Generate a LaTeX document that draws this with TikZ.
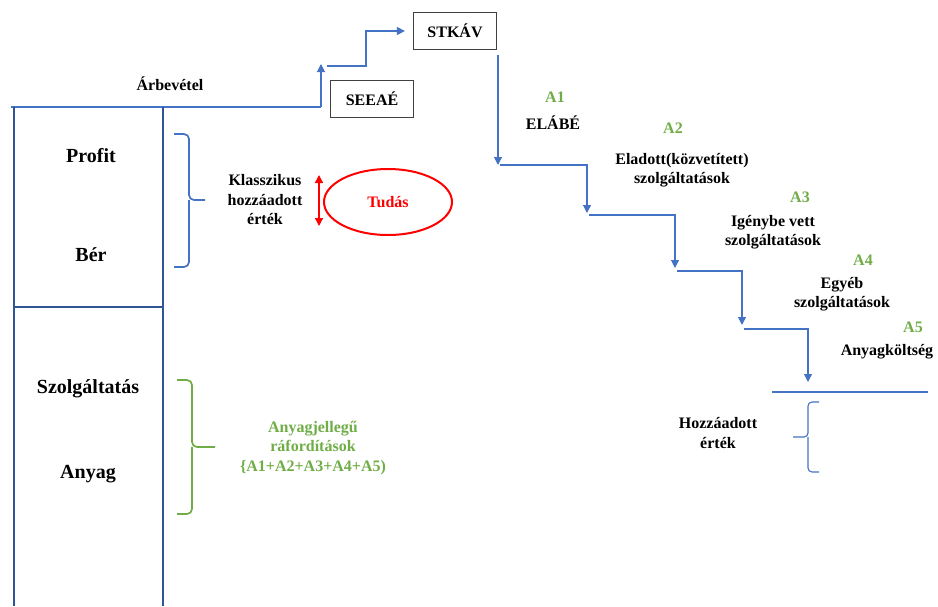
\documentclass[tikz,border=0pt]{standalone}
\usepackage{fontspec}
\setmainfont{Liberation Serif}
\usetikzlibrary{arrows.meta, positioning, shapes.geometric}
\definecolor{stepblue}{RGB}{68,114,196}
\definecolor{colblue}{RGB}{47,85,151}
\definecolor{costgreen}{RGB}{112,173,71}
\definecolor{knowred}{RGB}{255,0,0}

\begin{document}
\begin{tikzpicture}[
    x=1pt, y=-1pt,
    lbl/.style={font=\fontsize{16}{19.5}\selectfont\bfseries, align=center, inner sep=1pt},
    biglbl/.style={font=\fontsize{20}{24}\selectfont\bfseries, inner sep=1pt},
    code/.style={lbl, text=costgreen},
    box/.style={rectangle, draw=black!75, line width=1.2pt, minimum width=83pt, minimum height=37pt, lbl},
    flow/.style={-{Triangle[length=8pt, width=8pt]}, draw=stepblue, line width=1.1pt},
    column/.style={draw=colblue, line width=2pt},
    brace/.style={line width=1.7pt, rounded corners=5pt}
]
\useasboundingbox (0,0) rectangle (938,606);

% revenue line and column
\coordinate (revstart) at (11,107);
\coordinate (revend) at (321,107);
\draw[draw=stepblue, line width=2.6pt] (revstart) -- (revend);
\draw[column] (14,107) -- (14,606);
\draw[column] (163,107) -- (163,606);
\draw[column] (14,307) -- (163,307);

\node[lbl] (arbevetel) at (170,84) {Árbevétel};
\node[biglbl] (profit) at (91,156) {Profit};
\node[biglbl] (ber) at (91,255) {Bér};
\node[biglbl] (szolg) at (88,389) {Szolgáltatás};
\node[biglbl] (anyag) at (88,474) {Anyag};

% boxes
\node[box] (seeae) at (372,99) {SEEAÉ};
\node[box] (stkav) at (455,31) {STKÁV};

\coordinate (seetop) at (321,64);
\coordinate (seeside) at (327,66);
\draw[flow] (revend) -- (seetop);
\draw[flow, shorten >=8pt] (seeside) -- (366,66) |- (stkav.west);

% staircase
\coordinate (s0) at (498,55);
\coordinate (s1) at (498,165);
\coordinate (s2) at (587,213);
\coordinate (s3) at (675,268);
\coordinate (s4) at (742,325);
\coordinate (s5) at (808,382);
\draw[flow] (s0) -- (s1);
\draw[flow] (500,165) -| (s2);
\draw[flow] (589,215) -| (s3);
\draw[flow] (677,271) -| (s4);
\draw[flow] (744,329) -| (s5);
\coordinate (sumleft) at (772,392);
\coordinate (sumright) at (928,392);
\draw[draw=stepblue, line width=1.1pt] (sumleft) -- (sumright);

\node[code] (a1) at (555,97) {A1};
\node[lbl] (elabe) at (553,123) {ELÁBÉ};
\node[code] (a2) at (673,128) {A2};
\node[lbl] (eladott) at (682,170) {Eladott(közvetített)\\szolgáltatások};
\node[code] (a3) at (800,197) {A3};
\node[lbl] (igenybe) at (773,232) {Igénybe vett\\szolgáltatások};
\node[code] (a4) at (863,260) {A4};
\node[lbl] (egyeb) at (842,294) {Egyéb\\szolgáltatások};
\node[code] (a5) at (913,327) {A5};
\node[lbl] (anyagk) at (887,352) {Anyagköltség};

\node[lbl] (hozza) at (718,433) {Hozzáadott\\érték};
\draw[draw=stepblue, line width=1.1pt, rounded corners=4pt] (819,402) -- (808,402) -- (808,437) -- (793,437);
\draw[draw=stepblue, line width=1.1pt, rounded corners=4pt] (808,437) -- (808,472) -- (819,472);

% classic added value
\draw[brace, draw=stepblue] (174,134) -- (189,134) -- (189,200) -- (205,200);
\draw[brace, draw=stepblue] (189,200) -- (189,267) -- (174,267);
\node[lbl] (klassz) at (265,200) {Klasszikus\\hozzáadott\\érték};
\coordinate (kup) at (319,175);
\coordinate (kdown) at (319,226);
\draw[{Triangle[length=8pt, width=8pt]}-{Triangle[length=8pt, width=8pt]}, draw=knowred, fill=knowred, line width=1.3pt] (kup) -- (kdown);
\node[ellipse, draw=knowred, line width=2pt, minimum width=128pt, minimum height=66pt, lbl, text=knowred] (tudas) at (388,202) {Tudás};

% material costs
\draw[brace, draw=costgreen] (177,380) -- (192,380) -- (192,447) -- (215,447);
\draw[brace, draw=costgreen] (192,447) -- (192,514) -- (177,514);
\node[code] (raford) at (313,448) {Anyagjellegű\\ráfordítások\\\{A1+A2+A3+A4+A5)};
\end{tikzpicture}
\end{document}
